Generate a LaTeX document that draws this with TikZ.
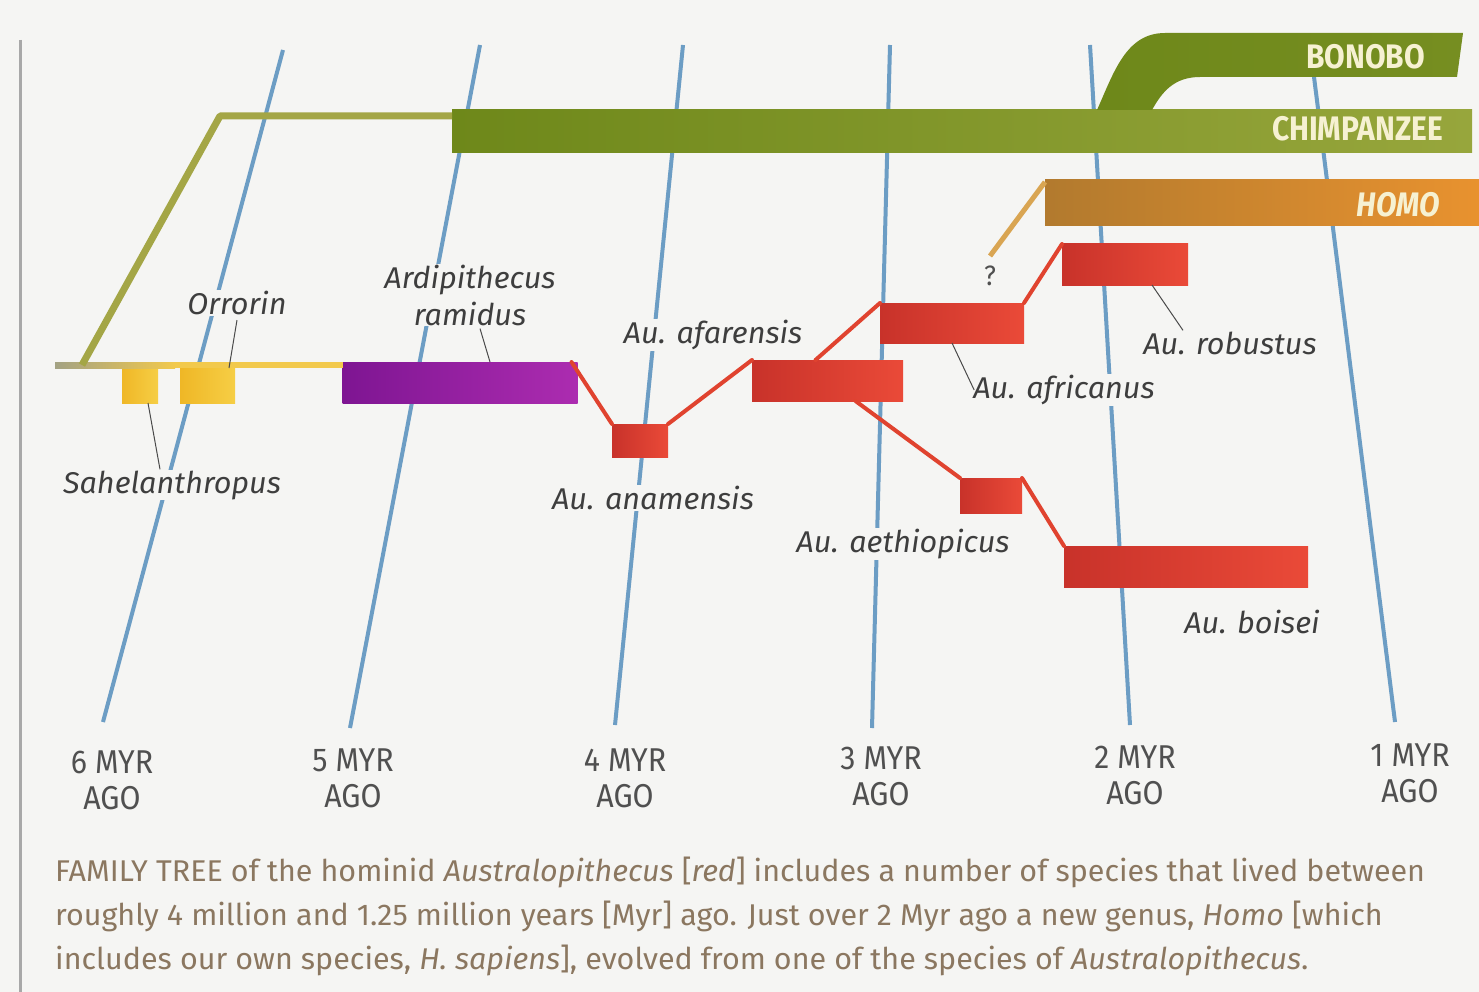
\documentclass[tikz,border=0pt]{standalone}
\usepackage{fontspec}
\setmainfont{Fira Sans}
\newfontfamily\labfont{Fira Sans}[FakeStretch=1.02]
\newfontfamily\agefont{Fira Sans}[FakeStretch=0.92]
\newfontfamily\barfont{Fira Sans}[FakeStretch=0.88]
\newfontfamily\capfont{Fira Sans}[FakeStretch=1.016]
\usetikzlibrary{positioning,calc}
\definecolor{hoBg}{HTML}{F5F5F3}
\definecolor{hoBlue}{HTML}{6C9DC4}
\definecolor{hoText}{HTML}{3E3E3E}
\definecolor{hoAge}{HTML}{505050}
\definecolor{hoCap}{HTML}{8B7760}
\definecolor{hoLead}{HTML}{4A4A4A}
\definecolor{hoRed}{HTML}{E0432F}
\definecolor{hoRedA}{HTML}{C8322A}
\definecolor{hoRedB}{HTML}{EA4A38}
\definecolor{hoPurA}{HTML}{7E1592}
\definecolor{hoPurB}{HTML}{AC2CB0}
\definecolor{hoYelA}{HTML}{EFB726}
\definecolor{hoYelB}{HTML}{F6CE45}
\definecolor{hoOlGray}{HTML}{A3A283}
\definecolor{hoYel}{HTML}{F2C94C}
\definecolor{hoOlive}{HTML}{A4A646}
\definecolor{hoChA}{HTML}{6E881A}
\definecolor{hoChB}{HTML}{97A63C}
\definecolor{hoHoA}{HTML}{B27A2E}
\definecolor{hoHoB}{HTML}{E8922F}
\definecolor{hoTan}{HTML}{D9A552}
\definecolor{hoCream}{HTML}{F6F1D2}
\definecolor{hoFrame}{HTML}{A8A8A8}

\begin{document}
\begin{tikzpicture}[x=1pt,y=-1pt,
  sp/.style={inner sep=0pt,outer sep=0pt,left color=hoRedA,right color=hoRedB},
  early/.style={inner sep=0pt,outer sep=0pt,left color=hoYelA,right color=hoYelB},
  bar/.style={inner sep=0pt,outer sep=0pt},
  linkline/.style={draw=hoRed,line width=4pt,line cap=round},
  lab/.style={font=\labfont\itshape\fontsize{30}{36}\selectfont,text=hoText,fill=hoBg,inner sep=1pt},
  age/.style={font=\agefont\fontsize{33}{36}\selectfont,text=hoAge,align=center,inner sep=0pt},
  bartxt/.style={font=\barfont\bfseries\fontsize{34}{40}\selectfont,text=hoCream,inner sep=0pt,anchor=east},
  lead/.style={draw=hoLead,line width=1pt},
  timeline/.style={draw=hoBlue,line width=4pt},
  captxt/.style={font=\capfont\fontsize{30}{44}\selectfont,text=hoCap,anchor=base west,inner sep=0pt}
]
\fill[hoBg] (0,0) rectangle (1479,992);
\useasboundingbox (0,0) rectangle (1479,992);
\draw[hoFrame,line width=3pt] (20,40) -- (20,992);

% time lines
\foreach \xt/\yt/\xb/\yb in {283/50/103/722,480/45/350/728,683/45/615/725,
    890/45/872/728,1090/45/1130/725,1310/45/1395/722}
  \draw[timeline] (\xt,\yt) -- (\xb,\yb);

% ages
\node[age] (m6) at (112,780) {6 MYR\\AGO};
\node[age] (m5) at (353,778) {5 MYR\\AGO};
\node[age] (m4) at (625,778) {4 MYR\\AGO};
\node[age] (m3) at (881,776) {3 MYR\\AGO};
\node[age] (m2) at (1135,775) {2 MYR\\AGO};
\node[age] (m1) at (1410,773) {1 MYR\\AGO};

% ape branches
\node[bar,left color=hoChA,right color=hoChB,minimum width=1020,minimum height=43] (chimp) at (962,131.5) {};
\shade[left color=hoChA,right color=hoChA!80!hoChB]
  (1097,110) .. controls (1114,72) and (1126,33) .. (1165,33) -- (1463,33) -- (1457,77)
  -- (1200,77) .. controls (1174,77) and (1162,92) .. (1152,110) -- cycle;
\node[bar,left color=hoHoA,right color=hoHoB,minimum width=434,minimum height=46] (homo) at (1262,203) {};
\node[bartxt] (tBono) at (1425,57) {BONOBO};
\node[bartxt] (tChimp) at (1443,129) {CHIMPANZEE};
\node[bartxt,font=\barfont\bfseries\itshape\fontsize{34}{40}\selectfont] (tHomo) at (1440,205) {HOMO};

% hominid species
\node[early,minimum width=36,minimum height=35] (sahA) at (140,385.5) {};
\node[early,minimum width=55,minimum height=35] (sahB) at (207.5,385.5) {};
\node[bar,left color=hoPurA,right color=hoPurB,minimum width=235,minimum height=41] (ardi) at (460,382.5) {};
\node[sp,minimum width=56,minimum height=33] (anam) at (640,440.5) {};
\node[sp,minimum width=151,minimum height=41] (afar) at (827.5,380.5) {};
\node[sp,minimum width=144,minimum height=40] (afri) at (952,323) {};
\node[sp,minimum width=126,minimum height=41] (robu) at (1125,264.5) {};
\node[sp,minimum width=62,minimum height=35] (aeth) at (991,495.5) {};
\node[sp,minimum width=244,minimum height=41] (bois) at (1186,566.5) {};

% stems
\coordinate (root) at (55,362);
\coordinate (split) at (82,365);
\coordinate (chimpbend) at (220,116);
\coordinate (homoroot) at (990,256);
\shade[left color=hoOlGray,right color=hoYel] (root) rectangle (175,368);
\fill[hoYel] (175,362) rectangle ([yshift=-6pt]ardi.north west);
\draw[hoOlive,line width=7pt,line join=round] (split) -- (chimpbend) -- ([yshift=-6pt]chimp.north west);
\draw[hoTan,line width=5pt] (homoroot) -- ([yshift=-2pt]homo.north west);

% red links
\draw[linkline] ([xshift=-6pt]ardi.north east) -- (anam.north west);
\draw[linkline] (anam.north east) -- (afar.north west);
\draw[linkline] ([xshift=-12pt]afar.north) -- (afri.north west);
\draw[linkline] (afri.north east) -- (robu.north west);
\draw[linkline] ([xshift=28pt]afar.south) -- (aeth.north west);
\draw[linkline] (aeth.north east) -- (bois.north west);

% labels
\node[lab] (lOrr) at (237,303) {Orrorin};
\node[lab,align=center,font=\labfont\itshape\fontsize{30}{37}\selectfont] (lArdi) at (470,295) {Ardipithecus\\ramidus};
\node[lab] (lSahel) at (172,485) {Sahelanthropus};
\node[lab] (lAfar) at (713,335) {Au. afarensis};
\node[lab] (lAnam) at (653,498) {Au. anamensis};
\node[lab] (lAeth) at (903,544) {Au. aethiopicus};
\node[lab] (lAfri) at (1064,390) {Au. africanus};
\node[lab] (lRobu) at (1230,343) {Au. robustus};
\node[lab] (lBois) at (1252,622) {Au. boisei};
\node[age,font=\agefont\fontsize{28}{32}\selectfont] (qmark) at (990,276) {?};

% leaders
\draw[lead] ([yshift=-4pt]lOrr.south) -- ([xshift=-6pt]sahB.north east);
\draw[lead] ([xshift=10pt,yshift=-2pt]lArdi.south) -- ([xshift=30pt]ardi.north);
\draw[lead] ([xshift=8pt]sahA.south) -- ([xshift=-12pt]lSahel.north);
\draw[lead] (afri.south) -- ([xshift=2pt]lAfri.west);
\draw[lead] ([xshift=27pt]robu.south) -- ([xshift=-47pt]lRobu.north);

% caption
\node[captxt] (cap1) at (55,881) {FAMILY TREE of the hominid \textit{Australopithecus} [\textit{red}] includes a number of species that lived between};
\node[captxt] (cap2) at (55,925) {roughly 4 million and 1.25 million years [Myr] ago. Just over 2 Myr ago a new genus, \textit{Homo} [which};
\node[captxt] (cap3) at (55,969) {includes our own species, \textit{H. sapiens}], evolved from one of the species of \textit{Australopithecus}.};
\end{tikzpicture}
\end{document}
